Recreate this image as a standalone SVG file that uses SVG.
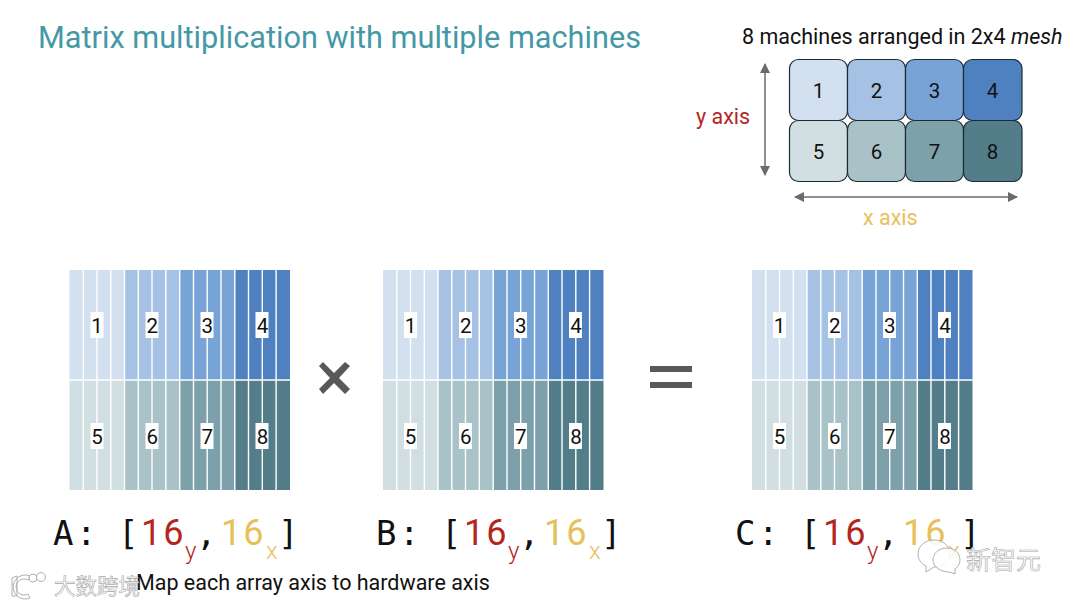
<svg xmlns="http://www.w3.org/2000/svg" width="1080" height="606" viewBox="0 0 1080 606">
<style>
text{font-family:Roboto,"Noto Sans","Noto Sans CJK SC",sans-serif;fill:#111}
.c1{fill:#d3e0f0}.c2{fill:#a5c1e3}.c3{fill:#78a3d7}.c4{fill:#4f81c1}
.c5{fill:#d2dfe2}.c6{fill:#a9c2c7}.c7{fill:#7ca1aa}.c8{fill:#547d8a}
.cell{stroke:#1c2a33;stroke-width:1.2}
.n{font-size:20.5px;text-anchor:middle}
.lab{fill:#fff}
.ln{stroke:#fff;stroke-width:1.4}
.ax{stroke:#6b6b6b;stroke-width:1.5;fill:none;marker-start:url(#arr);marker-end:url(#arr)}
.big{font-size:36px;letter-spacing:2px}
.mono{font-family:"DejaVu Sans Mono",monospace;font-size:34px}
.sub{font-size:24px;font-weight:300}
.r{fill:#b3261e}.y{fill:#e8c05a}
.wm{font-family:"Noto Sans CJK SC",sans-serif;fill:#fff;stroke:#a8a8a8;stroke-width:.6}
.wms{fill:#fff;fill-opacity:.85;stroke:#b0b0b0;stroke-width:1}
</style>
<defs>
<marker id="arr" viewBox="0 0 10 10" refX="9" refY="5" markerWidth="10" markerHeight="10" markerUnits="userSpaceOnUse" orient="auto-start-reverse"><path d="M0 0L10 5L0 10Z" fill="#6b6b6b"/></marker>
<g id="matrix">
<rect class="c1" x="0" y="0" width="55" height="110"/><rect class="c2" x="55" y="0" width="55.5" height="110"/><rect class="c3" x="110.5" y="0" width="55" height="110"/><rect class="c4" x="165.5" y="0" width="55" height="110"/>
<rect class="c5" x="0" y="110" width="55" height="110"/><rect class="c6" x="55" y="110" width="55.5" height="110"/><rect class="c7" x="110.5" y="110" width="55" height="110"/><rect class="c8" x="165.5" y="110" width="55" height="110"/>
<path class="ln" d="M13.8 0V220M27.5 0V220M41.3 0V220M55 0V220M68.8 0V220M82.5 0V220M96.3 0V220M110.2 0V220M124 0V220M137.7 0V220M151.5 0V220M165.3 0V220M179 0V220M192.8 0V220M206.6 0V220M0 110H220.5"/>
<rect class="lab" x="21" y="42" width="13" height="26"/><rect class="lab" x="76" y="42" width="13" height="26"/><rect class="lab" x="131" y="42" width="13" height="26"/><rect class="lab" x="186" y="42" width="13" height="26"/>
<rect class="lab" x="21" y="153" width="13" height="26"/><rect class="lab" x="76" y="153" width="13" height="26"/><rect class="lab" x="131" y="153" width="13" height="26"/><rect class="lab" x="186" y="153" width="13" height="26"/>
<text class="n" x="27.5" y="62.500">1</text><text class="n" x="82.700" y="62.500">2</text><text class="n" x="137.800" y="62.500">3</text><text class="n" x="193" y="62.500">4</text>
<text class="n" x="27.5" y="173.500">5</text><text class="n" x="82.700" y="173.500">6</text><text class="n" x="137.800" y="173.500">7</text><text class="n" x="193" y="173.500">8</text>
</g>
</defs>
<rect width="1080" height="606" fill="#fff"/>
<text id="title" x="38" y="48" font-size="30.700" style="fill:#4598a5">Matrix multiplication with multiple machines</text>
<g id="mesh">
<text x="742" y="44" font-size="21.500">8 machines arranged in 2x4 <tspan font-style="italic">mesh</tspan></text>
<g id="m1"><rect class="cell c1" x="789.500" y="59.500" width="58" height="61" rx="9"/><text class="n" x="818.500" y="98">1</text></g>
<g id="m2"><rect class="cell c2" x="847.500" y="59.500" width="58" height="61" rx="9"/><text class="n" x="876.500" y="98">2</text></g>
<g id="m3"><rect class="cell c3" x="905.500" y="59.500" width="58" height="61" rx="9"/><text class="n" x="934.500" y="98">3</text></g>
<g id="m4"><rect class="cell c4" x="963.500" y="59.500" width="58.500" height="61" rx="9"/><text class="n" x="992.500" y="98">4</text></g>
<g id="m5"><rect class="cell c5" x="789.500" y="120.500" width="58" height="61" rx="9"/><text class="n" x="818.500" y="158.500">5</text></g>
<g id="m6"><rect class="cell c6" x="847.500" y="120.500" width="58" height="61" rx="9"/><text class="n" x="876.500" y="158.500">6</text></g>
<g id="m7"><rect class="cell c7" x="905.500" y="120.500" width="58" height="61" rx="9"/><text class="n" x="934.500" y="158.500">7</text></g>
<g id="m8"><rect class="cell c8" x="963.500" y="120.500" width="58.500" height="61" rx="9"/><text class="n" x="992.500" y="158.500">8</text></g>
<text x="696" y="124" font-size="21.500" class="r">y axis</text>
<text x="863" y="225" font-size="21.500" class="y">x axis</text>
</g>
<g id="connectors">
<path class="ax" d="M765 64V175"/>
<path class="ax" d="M795 197H1017"/>
</g>
<g id="matrixA"><use href="#matrix" x="69.500" y="270"/></g>
<g id="matrixB"><use href="#matrix" x="383" y="270"/></g>
<g id="matrixC"><use href="#matrix" x="752" y="270"/></g>
<g id="ops">
<path d="M319 366L323 362L334 373L345 362L350 366L339 378L350 389L345 394L334 383L323 394L319 389L330 378Z" fill="#595959"/>
<path d="M650 366H692V372H650ZM650 382H692V388H650Z" fill="#595959"/>
</g>
<g id="labelA"><text class="mono" x="53" y="545">A</text><text class="mono" x="76" y="545">:</text><text class="mono" x="118" y="545">[</text><text class="big r" x="141" y="545">16</text><text class="sub r" x="185" y="559">y</text><text class="mono" x="196" y="545">,</text><text class="big y" x="221" y="545">16</text><text class="sub y" x="266" y="559">x</text><text class="mono" x="278" y="545">]</text></g>
<g id="labelB"><text class="mono" x="376" y="545">B</text><text class="mono" x="399" y="545">:</text><text class="mono" x="441" y="545">[</text><text class="big r" x="464" y="545">16</text><text class="sub r" x="508" y="559">y</text><text class="mono" x="519" y="545">,</text><text class="big y" x="544" y="545">16</text><text class="sub y" x="589" y="559">x</text><text class="mono" x="601" y="545">]</text></g>
<g id="labelC"><text class="mono" x="735" y="545">C</text><text class="mono" x="758" y="545">:</text><text class="mono" x="800" y="545">[</text><text class="big r" x="823" y="545">16</text><text class="sub r" x="867" y="559">y</text><text class="mono" x="878" y="545">,</text><text class="big y" x="903" y="545">16</text><text class="sub y" x="948" y="559">x</text><text class="mono" x="960" y="545">]</text></g>
<text id="note" x="136" y="590" font-size="21.500">Map each array axis to hardware axis</text>
<g id="watermarks">
<path class="wms" d="M12 578L17 576V596H12ZM30 576A12 12 0 1 0 30 598L28 594A8 8 0 1 1 28 580Z"/>
<circle class="wms" cx="33" cy="578" r="4"/><circle class="wms" cx="41" cy="577" r="4.500"/>
<text class="wm" x="54" y="594" font-size="21.500">大数跨境</text>
<path class="wms" d="M934 540C943 540 950 546 950 554C950 562 943 567 934 567L926 572L926 566C921 564 918 559 918 554C918 546 925 540 934 540Z"/>
<path class="wms" d="M947 548C954 548 960 553 960 560C960 564 958 567 955 569L955 574L949 572C941 572 933 567 933 560C933 553 939 548 947 548Z"/>
<text class="wm" x="966" y="569" font-size="25">新智元</text>
</g>
</svg>
